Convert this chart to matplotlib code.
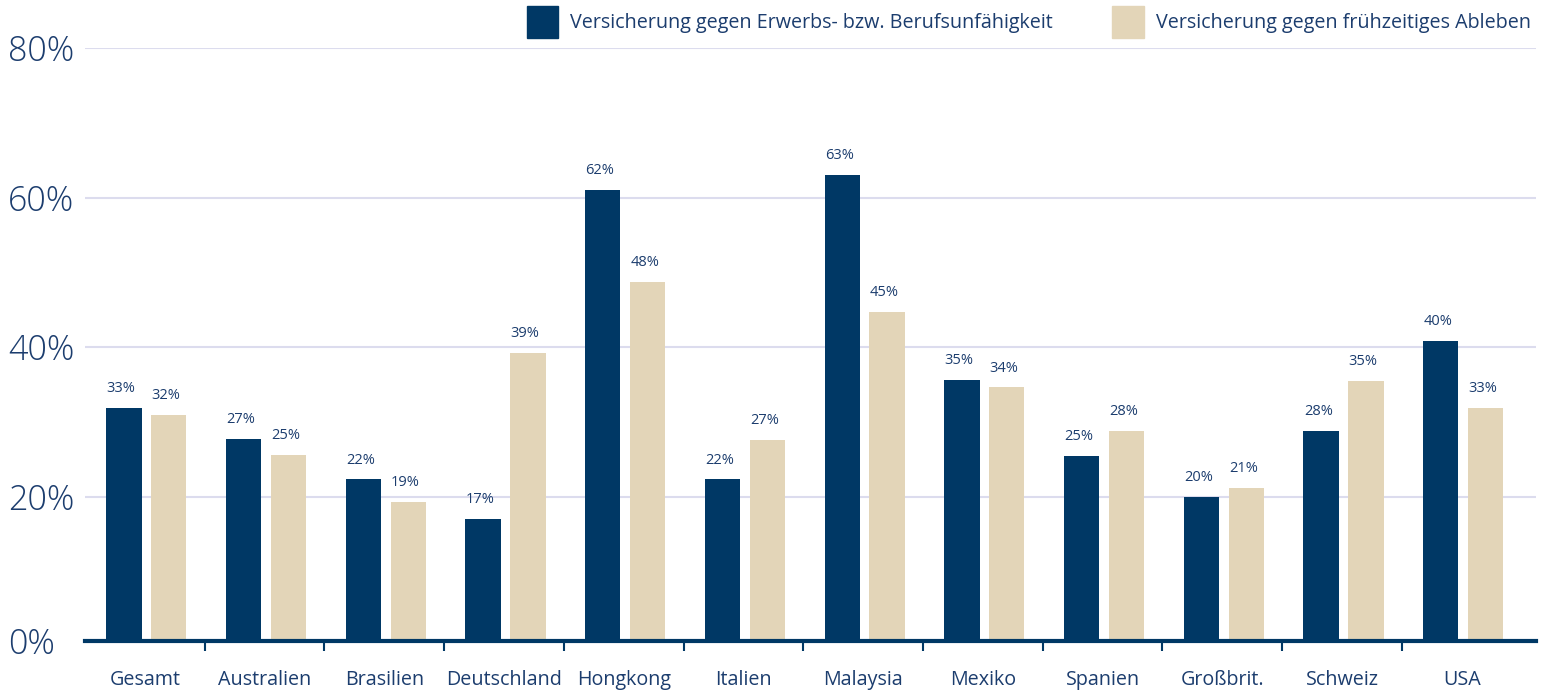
import matplotlib.pyplot as plt
from matplotlib.patches import Patch

plt.rcParams['font.family'] = ['Open Sans', 'DejaVu Sans']

laender = ["Gesamt", "Australien", "Brasilien", "Deutschland", "Hongkong", "Italien",
           "Malaysia", "Mexiko", "Spanien", "Großbrit.", "Schweiz", "USA"]
# bar heights
erwerb = [31.9, 27.7, 22.3, 17.0, 61.0, 22.3, 63.0, 35.6, 25.5, 20.0, 28.8, 40.8]
ableben = [30.9, 25.6, 19.3, 39.2, 48.7, 27.6, 44.7, 34.6, 28.8, 21.2, 35.5, 31.8]
# printed labels
erwerb_lbl = ["33%", "27%", "22%", "17%", "62%", "22%", "63%", "35%", "25%", "20%", "28%", "40%"]
ableben_lbl = ["32%", "25%", "19%", "39%", "48%", "27%", "45%", "34%", "28%", "21%", "35%", "33%"]
serien = ["Versicherung gegen Erwerbs- bzw. Berufsunfähigkeit",
          "Versicherung gegen frühzeitiges Ableben"]
yticks = [20, 40, 60, 80]

navy = "#003865"
beige = "#e3d5b8"
txt = "#1c3d6e"
grid = "#dcdcee"

W, H = 1545, 692
fig = plt.figure(figsize=(W / 100, H / 100), dpi=100)
ax = fig.add_axes([85 / W, (H - 641) / H, (1536 - 85) / W, (641 - 48) / H])

x = list(range(len(laender)))
bw = 0.295
ax.bar([i - 0.175 for i in x], erwerb, bw, color=navy, zorder=3)
ax.bar([i + 0.2 for i in x], ableben, bw, color=beige, zorder=3)

for i in x:
    ax.annotate(erwerb_lbl[i], (i - 0.175, erwerb[i]), xytext=(-2, 11.5), textcoords="offset points",
                ha="center", va="baseline", fontsize=10.5, color=txt)
    ax.annotate(ableben_lbl[i], (i + 0.2, ableben[i]), xytext=(-2, 11.5), textcoords="offset points",
                ha="center", va="baseline", fontsize=10.5, color=txt)

for g in yticks:
    ax.axhline(g, color=grid, lw=1.5, zorder=1)

ax.set_xlim(-0.5, 11.62)
ax.set_ylim(0.7, 80)

ax.set_yticks([0.7] + yticks, labels=["0%"] + [f"{v}%" for v in yticks])
ax.tick_params(axis="y", length=0, pad=55.4, labelsize=24.5, labelcolor=txt)
for lab in ax.get_yticklabels():
    lab.set_horizontalalignment("left")
    lab.set_fontweight("light")

ax.set_xticks(x, labels=laender)
ax.set_xticks([i + 0.5 for i in x[:-1]], minor=True)
ax.tick_params(axis="x", which="major", length=0, pad=21, labelsize=14.2, labelcolor=txt)
ax.tick_params(axis="x", which="minor", length=7, width=1.5, color=navy, direction="out")

for s in ["top", "right", "left"]:
    ax.spines[s].set_visible(False)
ax.spines["bottom"].set_color(navy)
ax.spines["bottom"].set_linewidth(3)
ax.spines["bottom"].set_zorder(4)

handles = [Patch(color=navy, label=serien[0]), Patch(color=beige, label=serien[1])]
fig.legend(handles=handles, loc="upper right", bbox_to_anchor=(1531 / W, 1 - 6 / H), ncol=2,
           frameon=False, fontsize=14.2, labelcolor=txt, handlelength=1.62, handleheight=2.1,
           handletextpad=0.6, columnspacing=3.0, borderaxespad=0, borderpad=0)

fig.savefig("out.png", dpi=100)
